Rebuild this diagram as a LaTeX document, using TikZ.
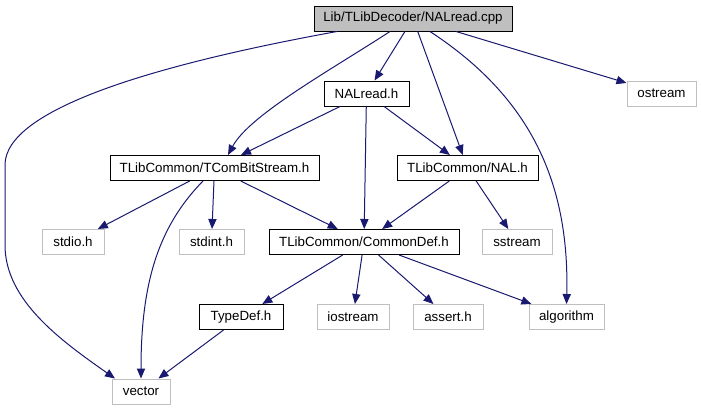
\documentclass[tikz,border=0pt]{standalone}
\usepackage{fontspec}
\setmainfont{Liberation Sans}
\usetikzlibrary{arrows.meta,calc}
\definecolor{edgecol}{HTML}{191970}
\definecolor{sysgray}{HTML}{BFBFBF}
\begin{document}
\begin{tikzpicture}[x=0.75pt,y=-0.75pt,
  box/.style={draw=black,line width=0.75pt,rectangle,inner sep=0pt,minimum height=18.75pt,font=\fontsize{10}{12}\selectfont},
  sysbox/.style={box,draw=sysgray},
  rootbox/.style={box,fill=sysgray},
  dep/.style={draw=edgecol,line width=0.75pt,-{Triangle[length=7.5pt,width=6.2pt]}}]
\useasboundingbox (0,0) rectangle (701,411);
% nodes
\node[rootbox,minimum width=148.5pt] (root) at (413,18.5) {Lib/TLibDecoder/NALread.cpp};
\node[box,minimum width=63.75pt] (nalh) at (366.5,93.5) {NALread.h};
\node[sysbox,minimum width=51.75pt] (ostream) at (661.5,93.5) {ostream};
\node[box,minimum width=156.75pt] (tcom) at (214.5,168) {TLibCommon/TComBitStream.h};
\node[box,minimum width=105.75pt] (nal) at (467.5,168) {TLibCommon/NAL.h};
\node[sysbox,minimum width=46.5pt] (stdio) at (73,242) {stdio.h};
\node[sysbox,minimum width=48.75pt] (stdint) at (211.5,242) {stdint.h};
\node[box,minimum width=142.5pt] (cdef) at (364,242) {TLibCommon/CommonDef.h};
\node[sysbox,minimum width=52.5pt] (sstream) at (517,242) {sstream};
\node[box,minimum width=63pt] (typedef) at (241,317) {TypeDef.h};
\node[sysbox,minimum width=54pt] (iostream) at (353,317) {iostream};
\node[sysbox,minimum width=52.5pt] (assert) at (448,317) {assert.h};
\node[sysbox,minimum width=56.25pt] (algorithm) at (566.5,317) {algorithm};
\node[sysbox,minimum width=43.5pt] (vector) at (141,391.5) {vector};
% curved edges
\draw[dep] ($(root.south)+(-76,0)$) .. controls ($(root.south)+(-263,34)$) and (5,110) .. (5,165) -- (5,245)
  .. controls (5,300) and (60,340) .. ($(vector.north)+(-26,0)$);
\draw[dep] ($(root.south)+(-23,0)$) .. controls ($(root.south)+(-83,39)$) and ($(tcom.north)+(35,-40)$) .. ($(tcom.north)+(13.5,0)$);
\draw[dep] ($(root.south)+(17,0)$) .. controls ($(root.south)+(107,59)$) and ($(algorithm.north)+(3.5,-134)$) .. (algorithm.north);
\draw[dep] ($(tcom.south)+(-11.5,0)$) .. controls ($(tcom.south)+(-54.5,44)$) and ($(vector.north)+(0,-99)$) .. (vector.north);
% straight edges
\draw[dep] (root) -- (nalh);
\draw[dep] (root) -- (nal);
\draw[dep] (root) -- (ostream);
\draw[dep] (nalh) -- (tcom);
\draw[dep] (nalh) -- (cdef);
\draw[dep] (nalh) -- (nal);
\draw[dep] (tcom) -- (stdio);
\draw[dep] (tcom) -- (stdint);
\draw[dep] (tcom) -- (cdef);
\draw[dep] (nal) -- (cdef);
\draw[dep] (nal) -- (sstream);
\draw[dep] (cdef) -- (typedef);
\draw[dep] (cdef) -- (iostream);
\draw[dep] (cdef) -- (assert);
\draw[dep] (cdef) -- (algorithm);
\draw[dep] (typedef) -- (vector);
\end{tikzpicture}
\end{document}
